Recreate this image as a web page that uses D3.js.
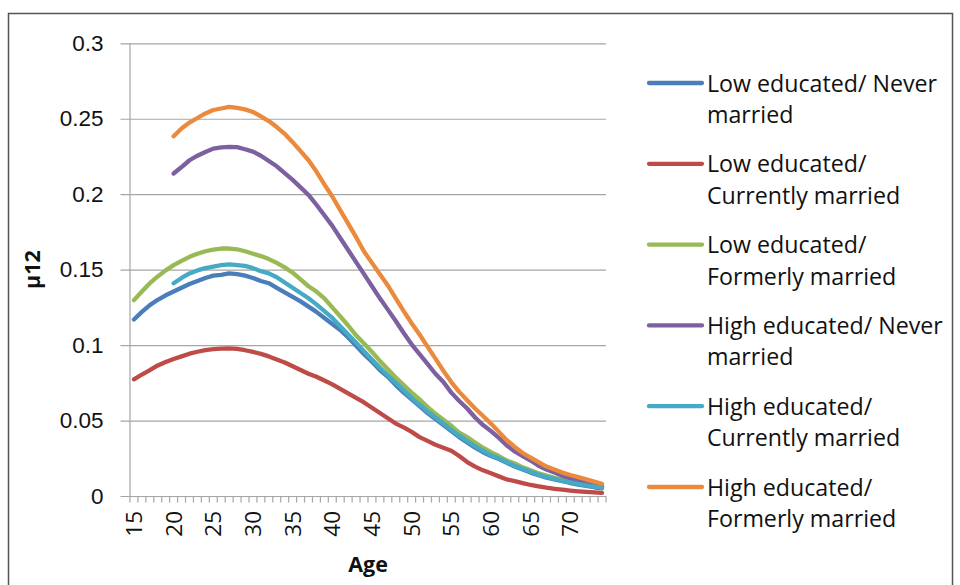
<!DOCTYPE html>
<html>
<head>
<meta charset="utf-8">
<script src="https://cdn.jsdelivr.net/npm/d3@7/dist/d3.min.js"></script>
<style>
  html, body { margin: 0; padding: 0; background: #fff; }
  svg { display: block; font-family: "Open Sans", "Noto Sans", sans-serif; }
</style>
</head>
<body>
<svg id="chart" width="960" height="585"></svg>
<script>
// Ages on the category axis
const ages = d3.range(15, 75);
const tickLabels = ["15","20","25","30","35","40","45","50","55","60","65","70"];
const yTicks = [0, 0.05, 0.1, 0.15, 0.2, 0.25, 0.3];

// µ12 by age (15–74); high educated groups start at age 20
const lowNever = [
  0.117, 0.122, 0.1265, 0.130, 0.133, 0.1355, 0.138, 0.1405, 0.1425, 0.1445,
  0.146, 0.1465, 0.1475, 0.147, 0.146, 0.1445, 0.1425, 0.141, 0.138, 0.135,
  0.132, 0.129, 0.1255, 0.122, 0.118, 0.114, 0.110, 0.105, 0.0995, 0.094,
  0.089, 0.0835, 0.079, 0.0735, 0.0685, 0.064, 0.0595, 0.055, 0.051, 0.047,
  0.043, 0.039, 0.0355, 0.032, 0.029, 0.0265, 0.0245, 0.022, 0.0195, 0.0175,
  0.0155, 0.0138, 0.0122, 0.011, 0.0098, 0.0086, 0.0076, 0.0067, 0.0058, 0.0051
];
const lowCurrent = [
  0.0773, 0.0805, 0.0834, 0.0865, 0.0888, 0.0908, 0.0925, 0.0943, 0.0956, 0.0967,
  0.0973, 0.0977, 0.0978, 0.0975, 0.0966, 0.0955, 0.0942, 0.0925, 0.0905, 0.0885,
  0.086, 0.0835, 0.081, 0.079, 0.0765, 0.074, 0.071, 0.068, 0.065, 0.062,
  0.0585, 0.055, 0.0515, 0.048, 0.0455, 0.0425, 0.039, 0.0365, 0.034, 0.032,
  0.030, 0.0265, 0.0225, 0.0195, 0.017, 0.015, 0.013, 0.011, 0.0098, 0.0085,
  0.0073, 0.0064, 0.0055, 0.0048, 0.0042, 0.0036, 0.0031, 0.0027, 0.0024, 0.0021
];
const lowFormer = [
  0.1298, 0.1355, 0.141, 0.1455, 0.1495, 0.153, 0.1558, 0.1585, 0.1605, 0.1622,
  0.1632, 0.164, 0.164, 0.1635, 0.1622, 0.1605, 0.159, 0.157, 0.1545, 0.1515,
  0.148, 0.1435, 0.139, 0.1355, 0.131, 0.125, 0.119, 0.113, 0.1065, 0.101,
  0.0955, 0.0895, 0.084, 0.0785, 0.0735, 0.0685, 0.064, 0.059, 0.0545, 0.0505,
  0.0465, 0.042, 0.039, 0.0355, 0.032, 0.029, 0.0265, 0.0235, 0.0215, 0.019,
  0.017, 0.015, 0.0135, 0.012, 0.0108, 0.0095, 0.0085, 0.0075, 0.0066, 0.0058
];
const highNever = [
  null, null, null, null, null, 0.2137, 0.218, 0.2225, 0.2255, 0.228,
  0.2302, 0.231, 0.2313, 0.2312, 0.2298, 0.2282, 0.2255, 0.222, 0.2185, 0.214,
  0.2095, 0.2045, 0.1995, 0.193, 0.186, 0.179, 0.171, 0.163, 0.155, 0.147,
  0.139, 0.131, 0.1235, 0.116, 0.108, 0.1005, 0.094, 0.0875, 0.081, 0.0755,
  0.0685, 0.063, 0.058, 0.052, 0.047, 0.043, 0.0385, 0.0335, 0.0295, 0.0265,
  0.0235, 0.020, 0.0175, 0.0155, 0.0135, 0.0117, 0.0102, 0.0088, 0.0075, 0.0064
];
const highCurrent = [
  null, null, null, null, null, 0.141, 0.1445, 0.1475, 0.1495, 0.151,
  0.152, 0.153, 0.1535, 0.153, 0.1525, 0.151, 0.149, 0.1475, 0.145, 0.1415,
  0.138, 0.1345, 0.131, 0.127, 0.1225, 0.118, 0.1125, 0.107, 0.1015, 0.096,
  0.0905, 0.085, 0.080, 0.075, 0.070, 0.065, 0.0605, 0.056, 0.052, 0.048,
  0.044, 0.040, 0.0365, 0.033, 0.030, 0.027, 0.025, 0.0225, 0.020, 0.018,
  0.016, 0.0142, 0.0126, 0.0113, 0.0101, 0.009, 0.008, 0.007, 0.0062, 0.0055
];
const highFormer = [
  null, null, null, null, null, 0.2384, 0.2435, 0.2475, 0.2505, 0.2535,
  0.2558, 0.2568, 0.2578, 0.2572, 0.2562, 0.2545, 0.2515, 0.2485, 0.2445, 0.240,
  0.2345, 0.2285, 0.2225, 0.215, 0.2065, 0.1985, 0.1895, 0.1805, 0.1715, 0.162,
  0.1545, 0.147, 0.1395, 0.131, 0.1225, 0.1145, 0.107, 0.099, 0.091, 0.083,
  0.0755, 0.069, 0.0635, 0.058, 0.053, 0.048, 0.0425, 0.037, 0.0325, 0.0285,
  0.0255, 0.0225, 0.0195, 0.0175, 0.0155, 0.0139, 0.0125, 0.011, 0.0095, 0.0081
];

const seriesNames = [
  ["Low educated/ Never", "married"],
  ["Low educated/", "Currently married"],
  ["Low educated/", "Formerly married"],
  ["High educated/ Never", "married"],
  ["High educated/", "Currently married"],
  ["High educated/", "Formerly married"]
];
const seriesValues = [lowNever, lowCurrent, lowFormer, highNever, highCurrent, highFormer];
const seriesColors = ["#4A7EBB", "#BE4B48", "#98B954", "#7D60A0", "#46AAC5", "#EB8A3C"];

const svg = d3.select("#chart");

// Chart area frame
svg.append("rect")
  .attr("x", 8.5).attr("y", 13.5)
  .attr("width", 944).attr("height", 600)
  .attr("fill", "#fff")
  .attr("stroke", "#555").attr("stroke-width", 1.5);

const plot = { left: 130, right: 606, top: 43.3, bottom: 496 };

const x = d3.scaleBand().domain(ages).range([plot.left, plot.right]).padding(0);
const y = d3.scaleLinear().domain([0, 0.3]).range([plot.bottom, plot.top]);
const cx = a => x(a) + x.bandwidth() / 2;

// Horizontal gridlines with the left tick marks
const yAxis = d3.axisLeft(y)
  .tickValues(yTicks)
  .tickSize(-(plot.right - plot.left + 9.5))
  .tickPadding(17)
  .tickFormat(d => d === 0 ? "0" : String(d));
svg.append("g")
  .attr("transform", `translate(${plot.left - 9.5},0)`)
  .call(yAxis)
  .call(g => g.select(".domain").remove())
  .call(g => g.selectAll(".tick line").attr("stroke", "#a6a6a6").attr("stroke-width", 1.2))
  .call(g => g.selectAll(".tick text")
    .attr("x", -17)
    .attr("fill", "#111").attr("font-size", 22.5));

// Vertical axis line
svg.append("line")
  .attr("x1", plot.left).attr("x2", plot.left)
  .attr("y1", plot.top).attr("y2", plot.bottom)
  .attr("stroke", "#a6a6a6").attr("stroke-width", 1.2);

// Category tick marks between ages
const bounds = ages.map(a => x(a)).concat([plot.right]);
svg.append("g").selectAll("line")
  .data(bounds)
  .join("line")
  .attr("x1", d => d).attr("x2", d => d)
  .attr("y1", plot.bottom).attr("y2", plot.bottom + 6.5)
  .attr("stroke", "#a6a6a6").attr("stroke-width", 1.2);

// Rotated age labels
svg.append("g").selectAll("text")
  .data(tickLabels)
  .join("text")
  .attr("transform", d => `translate(${cx(+d)},${plot.bottom + 15}) rotate(-90)`)
  .attr("text-anchor", "end")
  .attr("dy", "0.36em")
  .attr("fill", "#111")
  .attr("font-size", 22.5)
  .text(d => d);

// Axis titles
svg.append("text")
  .attr("x", 368).attr("y", 572)
  .attr("text-anchor", "middle")
  .attr("font-weight", "bold")
  .attr("font-size", 21.5)
  .attr("fill", "#111")
  .text("Age");

svg.append("text")
  .attr("transform", `translate(40,${(plot.top + plot.bottom) / 2}) rotate(-90)`)
  .attr("text-anchor", "middle")
  .attr("font-weight", "bold")
  .attr("font-size", 21.5)
  .attr("fill", "#111")
  .text("µ12");

// Series lines
const line = d3.line()
  .defined(d => d.v !== null)
  .x(d => cx(d.age))
  .y(d => y(d.v));

svg.append("g").selectAll("path")
  .data(seriesValues.map((vals, i) => ({ i, pts: ages.map((a, k) => ({ age: a, v: vals[k] })) })))
  .join("path")
  .attr("d", d => line(d.pts))
  .attr("fill", "none")
  .attr("stroke", d => seriesColors[d.i])
  .attr("stroke-width", 4.3)
  .attr("stroke-linejoin", "round")
  .attr("stroke-linecap", "round");

// Legend
const legend = svg.append("g");
const entries = legend.selectAll("g")
  .data(seriesNames.map((n, i) => ({ n, i })))
  .join("g")
  .attr("transform", d => `translate(0,${83 + d.i * 80.8})`);
entries.append("line")
  .attr("x1", 649).attr("x2", 702)
  .attr("y1", 0).attr("y2", 0)
  .attr("stroke", d => seriesColors[d.i])
  .attr("stroke-width", 4.3)
  .attr("stroke-linecap", "round");
entries.append("text")
  .attr("x", 707)
  .attr("y", 8.5)
  .attr("font-size", 23.2)
  .attr("fill", "#111")
  .selectAll("tspan")
  .data(d => d.n)
  .join("tspan")
  .attr("x", 707)
  .attr("dy", (d, k) => k === 0 ? 0 : 31.5)
  .text(d => d);
</script>
</body>
</html>
